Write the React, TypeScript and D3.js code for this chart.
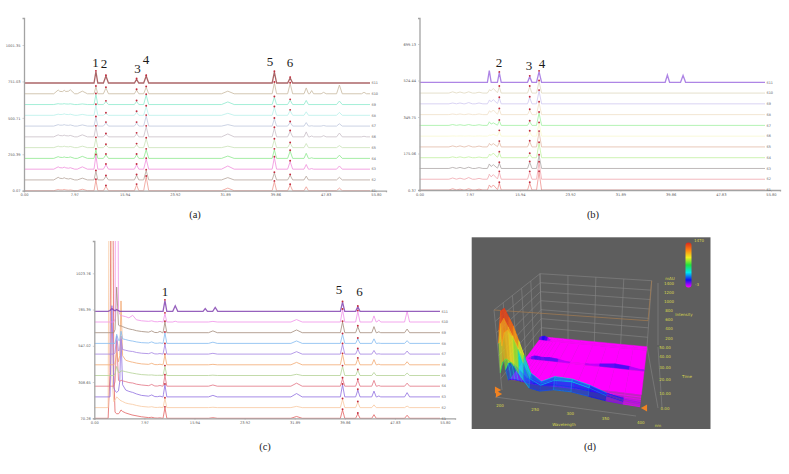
import React, { useEffect, useRef } from "react";
import * as d3 from "d3";

const width = 789;
const height = 474;
const axisGrey = "#a3a3a3";
const tickInk = "#5c5c5c";
const peakDot = "#c22a3c";

const timeTicks = [0, 7.97, 15.94, 23.92, 31.89, 39.86, 47.83, 55.8];
const traceLabels = ["S1", "S2", "S3", "S4", "S5", "S6", "S7", "S8", "S9", "S10", "S11"];

// panel (a), rows run S1 (bottom) to S11 (top)
const intensityTicksA = [0.07, 250.39, 500.71, 751.03, 1001.35];
const traceColorsA = ["#ee9a92", "#b5a69c", "#f08fdc", "#8fe890", "#c9e2b8", "#c9bfc8", "#c0c8de", "#b8f0ea", "#8feace", "#c8b9a0", "#9c4a4c"];
const peakTimesA = [5.42, 6.38, 7.33, 9.25, 11.4, 12.99, 17.85, 19.37, 32.31, 39.69, 42.19, 44.74, 45.6, 47.5, 50.0, 53.9];
const peakWidthsA = [0.7, 0.7, 0.7, 0.8, 0.3, 0.4, 0.35, 0.4, 1.0, 0.35, 0.4, 0.35, 0.3, 0.4, 0.45, 0.4];
const peakHeightsA = [
  [8, 8, 5, 10, 73, 30, 40, 96, 18, 62, 39, 27, 0, 0, 18, 0],
  [18, 15, 10, 12, 60, 25, 32, 65, 16, 48, 32, 26, 0, 0, 18, 0],
  [16, 14, 10, 16, 95, 30, 30, 70, 22, 80, 52, 32, 4, 0, 22, 0],
  [12, 10, 10, 14, 60, 25, 25, 60, 16, 60, 50, 35, 4, 0, 22, 0],
  [10, 10, 8, 10, 65, 18, 22, 62, 10, 55, 30, 28, 0, 0, 14, 0],
  [14, 12, 10, 14, 70, 18, 22, 70, 20, 60, 38, 34, 6, 8, 26, 4],
  [10, 10, 8, 8, 60, 22, 22, 70, 10, 50, 26, 24, 2, 4, 16, 0],
  [8, 10, 8, 6, 70, 12, 22, 60, 14, 55, 32, 24, 0, 0, 20, 0],
  [6, 6, 5, 4, 70, 20, 22, 65, 18, 50, 30, 28, 0, 0, 24, 0],
  [26, 24, 28, 18, 48, 40, 26, 45, 18, 75, 70, 40, 22, 10, 60, 10],
  [0, 0, 0, 0, 78, 48, 25, 48, 0, 75, 35, 0, 0, 0, 0, 0],
];
const markedPeaksA = [4, 5, 6, 7, 9, 10];
const peakNamesA = ["1", "2", "3", "4", "5", "6"];

// panel (b)
const intensityTicksB = [0.37, 175.06, 349.75, 524.44, 699.13];
const traceColorsB = ["#ef9490", "#f0a8b0", "#b0a8a8", "#c2f0a2", "#e2baa8", "#f9f9d0", "#a2f0a2", "#f0e0c8", "#d0c8f0", "#e0d8c0", "#a070e0"];
const peakTimesB = [5.27, 6.43, 7.81, 9.45, 11.08, 11.72, 12.67, 17.5, 18.98, 39.35, 41.84];
const peakWidthsB = [0.6, 0.6, 0.6, 0.6, 0.3, 0.7, 0.3, 0.35, 0.4, 0.35, 0.4];
const peakHeightsB = [
  [6, 4, 6, 4, 22, 24, 33, 33, 86, 0, 0],
  [6, 5, 8, 4, 22, 22, 34, 34, 80, 0, 0],
  [5, 5, 6, 4, 20, 18, 26, 30, 62, 0, 0],
  [4, 4, 4, 3, 14, 22, 25, 18, 70, 0, 0],
  [5, 5, 6, 4, 15, 16, 24, 26, 72, 0, 0],
  [1, 1, 1, 1, 4, 8, 24, 22, 62, 0, 0],
  [4, 3, 4, 3, 16, 12, 22, 18, 60, 0, 0],
  [3, 3, 3, 3, 16, 22, 26, 22, 58, 0, 0],
  [4, 4, 6, 4, 16, 20, 28, 30, 62, 0, 0],
  [6, 5, 6, 4, 14, 22, 30, 30, 56, 0, 0],
  [0, 0, 0, 0, 56, 0, 46, 27, 51, 35, 33],
];
const markedPeaksB = [6, 7, 8];
const peakNamesB = ["2", "3", "4"];

// panel (c)
const intensityTicksC = [70.28, 308.65, 547.02, 785.39, 1023.76];
const traceColorsC = ["#e36464", "#f8c8a0", "#9070e0", "#e27484", "#b4d296", "#f2aa74", "#a484e2", "#84baf0", "#a48c7c", "#f092e8", "#8444b2"];
const peakTimesC = [6.1, 9.13, 10.45, 11.24, 12.88, 17.65, 18.87, 19.24, 32.18, 39.5, 41.93, 44.5, 45.27, 49.77];
const peakWidthsC = [0.6, 0.5, 0.4, 0.3, 0.4, 0.35, 0.7, 0.4, 0.9, 0.35, 0.35, 0.35, 0.3, 0.4];
const peakHeightsC = [
  [0, 4, 2, 70, 0, 0, 4, 0, 12, 55, 30, 24, 0, 20],
  [2, 4, 2, 60, 0, 0, 2, 0, 8, 55, 35, 18, 0, 10],
  [3, 10, 4, 80, 0, 0, 10, 0, 22, 80, 45, 38, 6, 28],
  [4, 10, 4, 70, 0, 0, 8, 0, 20, 50, 40, 38, 4, 20],
  [1, 2, 1, 60, 0, 0, 2, 0, 8, 60, 34, 20, 0, 16],
  [2, 8, 3, 65, 0, 0, 3, 0, 16, 70, 40, 34, 4, 20],
  [3, 8, 3, 65, 0, 0, 5, 0, 16, 65, 32, 24, 2, 20],
  [2, 8, 3, 70, 0, 0, 8, 0, 16, 60, 30, 30, 2, 18],
  [3, 10, 8, 70, 0, 0, 12, 0, 18, 70, 40, 40, 6, 24],
  [25, 5, 3, 55, 5, 0, 4, 0, 16, 80, 70, 40, 14, 70],
  [0, 0, 0, 70, 36, 18, 0, 26, 0, 60, 30, 0, 0, 0],
];
const markedPeaksC = [3, 9, 10];
const peakNamesC = ["1", "5", "6"];
const frontTimesC = [2.2, 2.5, 2.8, 3.1, 3.3, 3.56, 3.85, 4.05, 4.25, 4.5, 5, 6, 7.5, 9, 11];
const frontHeightsC = [
  [0, 300, 3000, 300, 40, 30, 30, 40, 55, 45, 35, 22, 10, 3, 0],
  [0, 3000, 200, 40, 50, 70, 60, 50, 45, 40, 30, 20, 8, 2, 0],
  [0, 0, 600, 60, 40, 30, 40, 100, 400, 80, 45, 28, 10, 3, 0],
  [0, 0, 0, 0, 30, 300, 40, 30, 40, 35, 30, 18, 8, 2, 0],
  [0, 0, 0, 0, 10, 60, 20, 20, 30, 30, 25, 15, 6, 2, 0],
  [0, 0, 0, 0, 10, 80, 20, 60, 420, 60, 30, 16, 6, 2, 0],
  [0, 0, 0, 0, 10, 120, 20, 30, 100, 30, 25, 15, 6, 2, 0],
  [0, 0, 0, 0, 0, 60, 20, 20, 80, 30, 25, 14, 5, 2, 0],
  [0, 0, 0, 0, 20, 300, 50, 45, 45, 40, 32, 18, 8, 2, 0],
  [0, 0, 0, 0, 20, 3000, 80, 50, 42, 40, 35, 20, 8, 3, 0],
  [0, 5, 18, 8, 4, 12, 4, 0, 0, 0, 0, 0, 0, 0, 0],
];

// panel (d), absorbance surface: one row per time, one column per wavelength
const surfaceWaves = [200, 205, 210, 215, 220, 226, 232, 240, 255, 275, 300, 325, 350, 375, 400];
const surfaceTimes = [0, 1.5, 3, 4.5, 6, 8, 10, 29.3, 30, 30.7, 46.8, 47.5, 48.2, 50];
const surfaceHeights = [
  [300, 500, 560, 520, 450, 330, 220, 90, 60, 110, 110, 70, 30, 10, 0],
  [800, 1150, 1250, 1100, 950, 720, 480, 220, 130, 240, 250, 180, 80, 20, 0],
  [1000, 1350, 1400, 1250, 1100, 850, 600, 300, 170, 280, 270, 200, 100, 30, 0],
  [700, 950, 1000, 900, 780, 600, 400, 180, 120, 220, 200, 130, 60, 15, 0],
  [250, 380, 400, 360, 300, 220, 140, 60, 50, 80, 70, 40, 20, 5, 0],
  [30, 50, 50, 40, 30, 20, 10, 5, 5, 10, 10, 5, 0, 0, 0],
  [0, 0, 0, 0, 0, 0, 0, 0, 0, 0, 0, 0, 0, 0, 0],
  [0, 0, 0, 0, 0, 0, 0, 0, 0, 0, 0, 0, 0, 0, 0],
  [0, 0, 40, 60, 60, 50, 50, 60, 45, 0, 0, 40, 70, 50, 0],
  [0, 0, 0, 0, 0, 0, 0, 0, 0, 0, 0, 0, 0, 0, 0],
  [0, 0, 0, 0, 0, 0, 0, 0, 0, 0, 0, 0, 0, 0, 0],
  [40, 70, 80, 50, 0, 0, 0, 0, 0, 0, 0, 0, 0, 0, 0],
  [0, 0, 0, 0, 0, 0, 0, 0, 0, 0, 0, 0, 0, 0, 0],
  [0, 0, 0, 0, 0, 0, 0, 0, 0, 0, 0, 0, 0, 0, 0],
];
const waveTicks = [200, 250, 300, 350, 400];
const surfaceIntensityTicks = [200, 400, 600, 800, 1000, 1200, 1400];
const surfaceTimeTicks = [0, 10, 20, 30, 40, 50];
const colorStops = ["#ff00ff", "#1010f0", "#00e8f0", "#20e040", "#f0f020", "#ff8010", "#d8281c"];
const colorDomain = [0, 40, 200, 450, 700, 950, 1400];

type PanelProps = {
  id: string;
  left: number;
  tickSpan: number;
  top: number;
  bottom: number;
  topTrace: number;
  axisEnd: number;
  traceEnd: number;
  topTickY: number;
  intensityTicks: number[];
  colors: string[];
  peakTimes: number[];
  peakWidths: number[];
  peakHeights: number[][];
  marked: number[];
  names: string[];
  namePos: number[][];
  frontTimes?: number[];
  frontHeights?: number[][];
};

function Chromatogram(p: PanelProps) {
  const xAxis = useRef<SVGGElement>(null);
  const yAxis = useRef<SVGGElement>(null);

  const x = d3.scaleLinear().domain([0, 55.8]).range([p.left, p.left + p.tickSpan]);
  const y = d3.scaleLinear().domain([p.intensityTicks[0], p.intensityTicks[4]]).range([p.bottom, p.topTickY]);
  const traceY = d3.scaleLinear().domain([0, 10]).range([p.bottom, p.topTrace]);
  const endTime = x.invert(p.traceEnd);

  useEffect(() => {
    const styleAxis = (g: any) => {
      g.select(".domain").attr("stroke", axisGrey).attr("stroke-width", 1.3);
      g.selectAll("line").attr("stroke", axisGrey).attr("stroke-width", 0.5);
      g.selectAll("text").attr("fill", tickInk).attr("font-size", 3.6).attr("font-family", "DejaVu Sans");
    };
    const xScale = x.copy().domain([0, x.invert(p.axisEnd)]).range([p.left, p.axisEnd]);
    d3.select(xAxis.current)
      .call(d3.axisBottom(xScale).tickValues(timeTicks).tickFormat((d) => d3.format(".2f")(d as number)).tickSize(1.5).tickPadding(1.5) as any)
      .call(styleAxis);
    const yScale = y.copy().domain([p.intensityTicks[0], y.invert(p.top)]).range([p.bottom, p.top]);
    d3.select(yAxis.current)
      .call(d3.axisLeft(yScale).tickValues(p.intensityTicks).tickFormat((d) => d3.format(".2f")(d as number)).tickSize(1.5).tickPadding(2) as any)
      .call(styleAxis);
  }, []);

  const unitPx = (v: number) => y(p.intensityTicks[0] + v) - y(p.intensityTicks[0]);

  const traces = p.peakHeights.map((row, i) => {
    const front = p.frontHeights
      ? d3.scaleLinear().domain(p.frontTimes!).range(p.frontHeights[i]).clamp(true)
      : () => 0;
    const times = new Set<number>([0, endTime, ...(p.frontTimes || [])]);
    p.peakTimes.forEach((t, k) => {
      if (row[k] > 0) [t - p.peakWidths[k], t, t + p.peakWidths[k]].forEach((v) => times.add(v));
    });
    const pts = Array.from(times)
      .sort(d3.ascending)
      .map((t) => {
        let v = front(t) as number;
        p.peakTimes.forEach((c, k) => {
          const off = Math.abs(t - c);
          if (off < p.peakWidths[k]) v += row[k] * (1 - off / p.peakWidths[k]);
        });
        return [t, v];
      });
    return pts;
  });

  const line = (i: number) =>
    d3
      .line<number[]>()
      .x((d) => x(d[0]))
      .y((d) => traceY(i) + unitPx(d[1]))(traces[i]) as string;

  return (
    <g>
      <clipPath id={`clip-${p.id}`}>
        <rect x={p.left} y={p.top} width={p.axisEnd - p.left} height={p.bottom - p.top + 1} />
      </clipPath>
      <g clipPath={`url(#clip-${p.id})`} filter="url(#soft)">
        {traces.map((_, i) => (
          <path key={i} d={line(i)} fill="none" stroke={p.colors[i]} strokeOpacity={0.85} strokeWidth={i === 10 ? 1.3 : 0.95} />
        ))}
      </g>
      <g ref={xAxis} transform={`translate(0,${p.bottom})`} />
      <g ref={yAxis} transform={`translate(${p.left},0)`} />
      {p.peakHeights.map((row, i) =>
        p.marked.map((k) =>
          row[k] > 0 ? (
            <circle key={`${i}-${k}`} cx={x(p.peakTimes[k])} cy={traceY(i) + unitPx(row[k]) - 0.8} r={0.95} fill={peakDot} />
          ) : null,
        ),
      )}
      {traceLabels.map((t, i) => (
        <text key={t} x={p.traceEnd + 1.5} y={traceY(i) + 1.2} fontSize={3.4} fontFamily="DejaVu Sans" fill={tickInk}>
          {t}
        </text>
      ))}
      {p.names.map((t, i) => (
        <text key={t} x={p.namePos[i][0]} y={p.namePos[i][1]} textAnchor="middle" fontSize={13} fontFamily="Liberation Serif" fill="#1a1a1a">
          {t}
        </text>
      ))}
    </g>
  );
}

function Surface() {
  const lerp = (a: number, b: number, f: number) => a + (b - a) * f;
  const project = (w: number, t: number, i: number) => {
    const u = (w - 200) / 200;
    const v = t / 50;
    const z = i / 1400;
    const fx = lerp(502, 640, u);
    const bx = lerp(541.7, 647, u);
    const fy = lerp(390, 406.7, u);
    const by = lerp(336.7, 346.7, u);
    const rise = lerp(lerp(80, 86, u), lerp(63, 66, u), v);
    const tilt = lerp(lerp(-8, 8, u), lerp(-1.7, 4.7, u), v);
    return [lerp(fx, bx, v) + tilt * z, lerp(fy, by, v) - rise * z];
  };
  const color = d3.scaleLinear<string>().domain(colorDomain).range(colorStops);
  const path = d3.line();
  const segment = (a: number[], b: number[]) => path([a as [number, number], b as [number, number]]) as string;

  const rows = d3.range(surfaceTimes.length - 2, -1, -1);
  const cols = d3.range(surfaceWaves.length - 1);

  const waveY = d3.scaleLinear().domain([200, 400]).range([405, 422.7]);
  const waveX = d3.scaleLinear().domain([200, 400]).range([500, 640.7]);
  const intensityY = d3.scaleLinear().domain([200, 1400]).range([338, 283]);
  const timeY = d3.scaleLinear().domain(surfaceTimeTicks).range([408, 393, 379.5, 367.6, 356, 347]);
  const yellow = "#d8d84c";
  const grid = "#868686";
  const triangle = d3.symbol().type(d3.symbolTriangle).size(22)() as string;

  return (
    <g>
      <rect x={471.7} y={237.3} width={238.8} height={191.7} fill="#5e5e5e" />
      <defs>
        <linearGradient id="legendBar" x1="0" y1="1" x2="0" y2="0">
          {colorStops.map((c, i) => (
            <stop key={c} offset={`${(i / (colorStops.length - 1)) * 100}%`} stopColor={c} />
          ))}
        </linearGradient>
      </defs>
      {/* walls of the box */}
      <g fill="none" stroke={grid} strokeWidth={0.6}>
        {waveTicks.map((w) => (
          <path key={w} d={segment(project(w, 50, 0), project(w, 50, 1400))} />
        ))}
        {surfaceIntensityTicks.map((i) => (
          <path key={i} d={segment(project(200, 50, i), project(400, 50, i))} />
        ))}
        {surfaceIntensityTicks.map((i) => (
          <path key={i} d={segment(project(200, 0, i), project(200, 50, i))} />
        ))}
        {surfaceTimeTicks.map((t) => (
          <path key={t} d={segment(project(200, t, 0), project(200, t, 1400))} />
        ))}
        <path d={segment(project(400, 50, 0), [658, 408])} />
        <path d={segment([495, 397], [636, 416])} />
        <path d={segment([658, 283], [658, 345])} />
        <path d={segment([658, 347], [662, 408])} />
      </g>
      <g fill="none" stroke="#a67c50" strokeWidth={0.7}>
        <path d={segment(project(200, 0, 1400), project(400, 0, 1400))} />
        <path d={segment(project(400, 0, 1400), project(400, 50, 1400))} />
      </g>
      {/* surface, back to front */}
      <g filter="url(#soft)">
        {rows.map((r) =>
          cols.map((c) => {
            const h = surfaceHeights;
            const mean = (h[r][c] + h[r][c + 1] + h[r + 1][c] + h[r + 1][c + 1]) / 4;
            const corners = [
              project(surfaceWaves[c], surfaceTimes[r], h[r][c]),
              project(surfaceWaves[c + 1], surfaceTimes[r], h[r][c + 1]),
              project(surfaceWaves[c + 1], surfaceTimes[r + 1], h[r + 1][c + 1]),
              project(surfaceWaves[c], surfaceTimes[r + 1], h[r + 1][c]),
            ];
            const ridge = r < 6;
            return (
              <g key={`${r}-${c}`}>
                <polygon
                  points={corners.join(" ")}
                  fill={color(ridge && mean < 500 ? mean * 0.45 : mean)}
                  fillOpacity={ridge ? 0.6 : 1}
                  stroke={ridge ? "none" : color(mean)}
                  strokeWidth={0.4}
                />
                {ridge ? (
                  <>
                    <path d={segment(corners[0], corners[1])} stroke={color((h[r][c] + h[r][c + 1]) / 2)} strokeWidth={0.8} />
                    <path d={segment(corners[0], corners[3])} stroke={color((h[r][c] + h[r + 1][c]) / 2)} strokeWidth={0.5} strokeOpacity={0.8} />
                  </>
                ) : null}
              </g>
            );
          }),
        )}
      </g>
      <path transform="translate(497,390) rotate(90)" d={triangle} fill="#f08222" />
      <path transform="translate(498,394) rotate(90)" d={triangle} fill="#f08222" />
      <path transform="translate(645,408) rotate(-90)" d={triangle} fill="#f08222" />
      {/* colour bar */}
      <rect x={685.5} y={242.5} width={6} height={45} rx={3} fill="url(#legendBar)" />
      <g fontFamily="DejaVu Sans" fontSize={4} fill={yellow} textAnchor="middle">
        <text x={699} y={241.5}>1470</text>
        <text x={697} y={285.5}>-3</text>
        <text x={670} y={280}>mAU</text>
        {surfaceIntensityTicks.map((i) => (
          <text key={i} x={669} y={intensityY(i) + 1.5}>{i}</text>
        ))}
        {surfaceTimeTicks.map((t) => (
          <text key={t} x={665} y={timeY(t) + 1.5}>{d3.format(".2f")(t)}</text>
        ))}
        <text x={684} y={315.5}>Intensity</text>
        <text x={687} y={377.5}>Time</text>
        {waveTicks.map((w) => (
          <text key={w} x={waveX(w)} y={waveY(w) + 1.5}>{w}</text>
        ))}
        <text x={564} y={425.5}>Wavelength</text>
        <text x={658} y={426.5}>nm</text>
      </g>
    </g>
  );
}

const App = () => (
  <svg
    width={width}
    height={height}
    viewBox={`0 0 ${width} ${height}`}
    style={{ position: "absolute", left: 0, top: 0, background: "#fff" }}
  >
    <defs>
      <filter id="soft" x="-5%" y="-5%" width="110%" height="110%">
        <feGaussianBlur stdDeviation="0.3" />
      </filter>
    </defs>
    <Chromatogram
      id="a"
      left={24}
      tickSpan={352}
      top={18}
      bottom={190.7}
      topTrace={83}
      axisEnd={386}
      traceEnd={370}
      topTickY={45}
      intensityTicks={intensityTicksA}
      colors={traceColorsA}
      peakTimes={peakTimesA}
      peakWidths={peakWidthsA}
      peakHeights={peakHeightsA}
      marked={markedPeaksA}
      names={peakNamesA}
      namePos={[[95.5, 67], [104, 68], [137.5, 73], [146, 64], [270, 66], [290, 67]]}
    />
    <Chromatogram
      id="b"
      left={419.5}
      tickSpan={351.5}
      top={18}
      bottom={190}
      topTrace={82.3}
      axisEnd={780}
      traceEnd={765}
      topTickY={44}
      intensityTicks={intensityTicksB}
      colors={traceColorsB}
      peakTimes={peakTimesB}
      peakWidths={peakWidthsB}
      peakHeights={peakHeightsB}
      marked={markedPeaksB}
      names={peakNamesB}
      namePos={[[499, 67], [529, 70], [542, 67.7]]}
    />
    <Chromatogram
      id="c"
      left={94.3}
      tickSpan={350.7}
      top={241}
      bottom={418.3}
      topTrace={311.3}
      axisEnd={455}
      traceEnd={440}
      topTickY={273.3}
      intensityTicks={intensityTicksC}
      colors={traceColorsC}
      peakTimes={peakTimesC}
      peakWidths={peakWidthsC}
      peakHeights={peakHeightsC}
      marked={markedPeaksC}
      names={peakNamesC}
      namePos={[[165, 296], [339, 294], [359.5, 296]]}
      frontTimes={frontTimesC}
      frontHeights={frontHeightsC}
    />
    <Surface />
    <g fontFamily="Liberation Serif" fontSize={10.5} fill="#222" textAnchor="middle">
      <text x={195} y={218}>(a)</text>
      <text x={593} y={218}>(b)</text>
      <text x={265} y={450}>(c)</text>
      <text x={590} y={450}>(d)</text>
    </g>
  </svg>
);

export default App;
